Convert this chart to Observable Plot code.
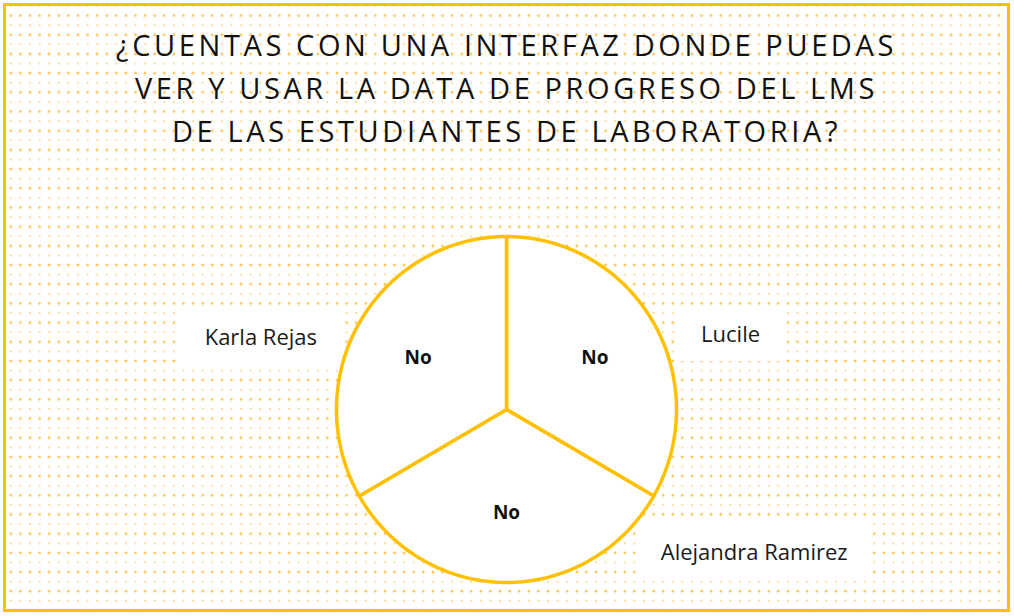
<!DOCTYPE html>
<html><head><meta charset="utf-8">
<script src="https://cdn.jsdelivr.net/npm/d3@7"></script>
<script src="https://cdn.jsdelivr.net/npm/@observablehq/plot@0.6"></script>
<style>
html,body{margin:0;padding:0;background:#fff;}
#frame{position:absolute;left:3px;top:3px;width:1007px;height:609px;box-sizing:border-box;border:3px solid #FFC000;
background-color:#fff;
background-image: radial-gradient(circle, rgba(255,180,40,0.8) 1.1px, transparent 1.7px), radial-gradient(circle, rgba(255,196,80,0.6) 0.9px, transparent 1.4px);
background-size: 9.6px 19.2px, 9.6px 19.2px;
background-position: 0 0, 0 9.6px;}
#title{position:absolute;left:0;top:17px;width:1001px;text-align:center;font-family:"Open Sans",sans-serif;font-size:29px;line-height:43px;letter-spacing:3.6px;color:#111;}
#title div{white-space:nowrap;}
#chart{position:absolute;left:0;top:150px;}
</style></head><body>
<div id="frame"><div id="title"></div><div id="chart"></div></div>
<script>
// ---- data ----
const titleLines = [
  "¿CUENTAS CON UNA INTERFAZ DONDE PUEDAS",
  "VER Y USAR LA DATA DE PROGRESO DEL LMS",
  "DE LAS ESTUDIANTES DE LABORATORIA?"
];
const respondents = ["Lucile", "Alejandra Ramirez", "Karla Rejas"];
const answers = ["No", "No", "No"];
const counts = [1, 1, 1];
// annotation anchors for the respondent names (in pie-radius units)
const nameAnchorX = [1.318, 1.457, -1.445];
const nameAnchorY = [0.43, -0.827, 0.416];

// ---- title ----
const titleEl = document.getElementById("title");
titleLines.forEach(t => { const d = document.createElement("div"); d.textContent = t; titleEl.appendChild(d); });

// ---- pie geometry from data ----
const arcs = d3.pie().sort(null).startAngle(0).endAngle(2 * Math.PI)(counts);
const slicePts = [];
arcs.forEach((a, i) => {
  slicePts.push({slice: i, x: 0, y: 0});
  const n = 90;
  for (let k = 0; k <= n; k++) {
    const t = a.startAngle + (a.endAngle - a.startAngle) * k / n;
    slicePts.push({slice: i, x: Math.sin(t), y: Math.cos(t)});
  }
  slicePts.push({slice: i, x: 0, y: 0});
});
const sliceLabels = arcs.map((a, i) => {
  const m = (a.startAngle + a.endAngle) / 2;
  return {x: 0.6 * Math.sin(m), y: 0.6 * Math.cos(m), text: answers[i]};
});
const nameLabels = respondents.map((r, i) => ({x: nameAnchorX[i], y: nameAnchorY[i], text: r}));

const gold = "#FFC000";
const plot = Plot.plot({
  width: 1001, height: 453,
  marginLeft: 330, marginRight: 331, marginTop: 80, marginBottom: 27,
  x: {domain: [-1, 1], axis: null},
  y: {domain: [-1, 1], axis: null},
  style: {background: "transparent", overflow: "visible"},
  marks: [
    Plot.line(slicePts, {x: "x", y: "y", z: "slice", fill: "white", stroke: gold, strokeWidth: 3.5, strokeLinejoin: "round"}),
    Plot.text(sliceLabels, {x: "x", y: "y", text: "text", fontWeight: "bold", fontSize: 19, fill: "#111", fontFamily: "Open Sans"}),
    Plot.text(nameLabels, {x: "x", y: "y", text: "text", fontSize: 22, fill: "#1a1a1a", fontFamily: "Open Sans"})
  ]
});
document.getElementById("chart").appendChild(plot);

// white boxes behind the respondent names, placed beneath all marks
const textGroups = plot.querySelectorAll('g[aria-label="text"]');
const g = textGroups[textGroups.length - 1];
if (g) {
  const boxes = document.createElementNS("http://www.w3.org/2000/svg", "g");
  const firstMark = plot.querySelector('g[aria-label="line"]');
  plot.insertBefore(boxes, firstMark);
  g.querySelectorAll("text").forEach(t => {
    const b = t.getBBox();
    const padX = 25, padY = 13;
    const r = document.createElementNS("http://www.w3.org/2000/svg", "rect");
    r.setAttribute("x", b.x - padX);
    r.setAttribute("y", b.y - padY);
    r.setAttribute("width", b.width + 2 * padX);
    r.setAttribute("height", b.height + 2 * padY);
    r.setAttribute("fill", "white");
    const tr = [g.getAttribute("transform"), t.getAttribute("transform")].filter(Boolean).join(" ");
    if (tr) r.setAttribute("transform", tr);
    boxes.appendChild(r);
  });
}
</script>
</body></html>
